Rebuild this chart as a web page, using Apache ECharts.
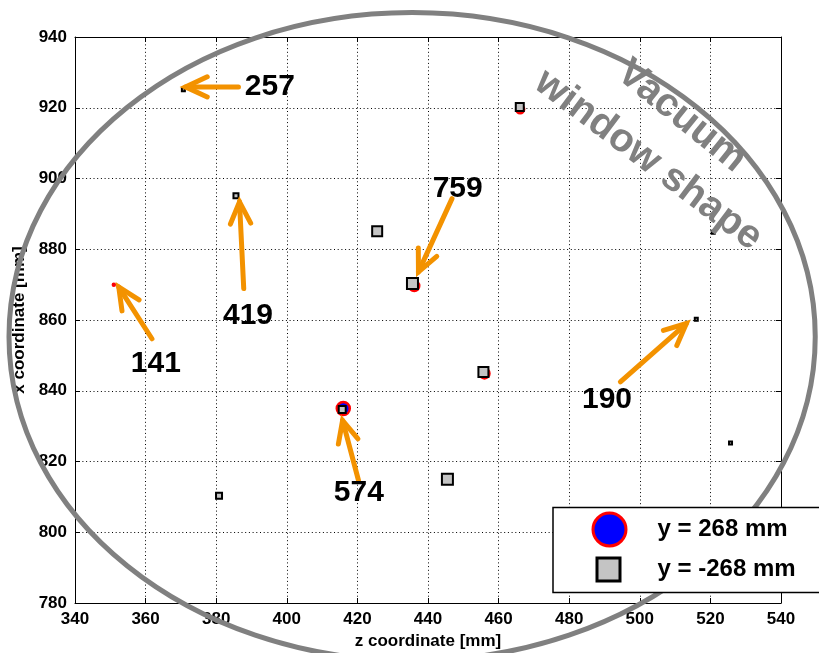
<!DOCTYPE html>
<html><head><meta charset="utf-8">
<script src="https://cdn.jsdelivr.net/npm/echarts@6/dist/echarts.min.js"></script>
<style>html,body{margin:0;padding:0;background:#fff}#c{width:819px;height:653px}</style>
</head><body><div id="c"></div>
<script>
// ---- data ----
const seriesNames = ['y = 268 mm', 'y = -268 mm'];
// [z coordinate, x coordinate]
const posY = [[351, 870], [436.1, 869.6], [466.1, 919.6], [456.0, 844.9], [416, 835]];
const posWeight = [2, 10, 8, 10, 13];
const negY = [[370.7, 925.1], [385.6, 895.1], [425.6, 885.1], [435.6, 870.3], [466, 920.2], [455.7, 845.3],
              [415.7, 834.7], [445.5, 815], [380.8, 810.3], [520.8, 884.8], [516, 860.2], [525.7, 825.2]];
const negWeight = [3, 5, 10, 11, 8, 10, 7, 11, 6, 3, 3, 3];
const annLabels = ['257', '419', '141', '759', '574', '190'];
const annTail  = [[386.3, 925.9], [387.8, 868.9], [361.8, 854.7], [446.8, 894.3], [420.3, 814.7], [494.5, 842.5]];
const annTip   = [[371.3, 925.9], [386.6, 893.4], [352.4, 869.3], [437.3, 873.6], [415.8, 831.6], [513.2, 859.0]];
const annText  = [[395.2, 925.9], [389.0, 861.3], [362.9, 847.5], [448.4, 897.0], [420.4, 811.3], [490.7, 837.6]];
const windowCenter = [435.5, 855.3];
const windowHalfAxes = [114.2, 91.6];
const windowText = ['Vacuum', 'window shape'];
const windowTextPos = [[511.8, 917.6], [502.4, 905.2]];

const FF = '"Liberation Sans", Arial, Helvetica, sans-serif';
const chart = echarts.init(document.getElementById('c'));
const axisCommon = {
  type: 'value',
  axisLine: { show: true, onZero: false, lineStyle: { color: '#000', width: 1 } },
  axisTick: { show: true, inside: true, length: 5, lineStyle: { color: '#000', width: 1 } }
};
const labelStyle = { color: '#000', fontSize: 17, fontWeight: 'bold', fontFamily: FF };
chart.setOption({
  animation: false,
  backgroundColor: '#fff',
  grid: { left: 75, right: 38, top: 37, bottom: 50, containLabel: false, outerBoundsMode: 'none' },
  xAxis: [
    Object.assign({}, axisCommon, {
      min: 340, max: 540, interval: 20, position: 'bottom',
      axisLabel: Object.assign({ margin: 8 }, labelStyle),
      splitLine: { show: true, lineStyle: { color: '#000', width: 1, type: [1, 2.7] } },
      name: 'z coordinate [mm]', nameLocation: 'middle', nameGap: 30,
      nameTextStyle: { color: '#000', fontSize: 17, fontWeight: 'bold', fontFamily: FF }
    }),
    Object.assign({}, axisCommon, {
      min: 340, max: 540, interval: 20, position: 'top',
      axisLabel: { show: false }, splitLine: { show: false }
    })
  ],
  yAxis: [
    Object.assign({}, axisCommon, {
      min: 780, max: 940, interval: 20, position: 'left',
      axisLabel: Object.assign({ margin: 8 }, labelStyle),
      splitLine: { show: true, lineStyle: { color: '#000', width: 1, type: [1, 2.7] } },
      name: 'x coordinate [mm]', nameLocation: 'middle', nameGap: 40,
      nameTextStyle: { color: '#000', fontSize: 17, fontWeight: 'bold', fontFamily: FF }
    }),
    Object.assign({}, axisCommon, {
      min: 780, max: 940, interval: 20, position: 'right',
      axisLabel: { show: false }, splitLine: { show: false }
    })
  ],
  legend: [
    { data: [seriesNames[0]], left: 591.5, top: 511.5, padding: 0, itemWidth: 33, itemHeight: 33, z: 60,
      textStyle: { color: '#000', fontSize: 24, fontWeight: 'bold', fontFamily: FF, padding: [0, 0, 0, 26.5] },
      itemStyle: { borderWidth: 3 } },
    { data: [seriesNames[1]], left: 595.5, top: 556.5, padding: 0, itemWidth: 23, itemHeight: 23, z: 60,
      textStyle: { color: '#000', fontSize: 24, fontWeight: 'bold', fontFamily: FF, padding: [0, 0, 0, 32.5] },
      itemStyle: { borderWidth: 3 } }
  ],
  series: [
    { name: seriesNames[0], type: 'scatter', symbol: 'circle', xAxisIndex: 0, yAxisIndex: 0,
      data: posY.map((p, i) => ({ value: p, symbolSize: posWeight[i] })),
      itemStyle: { color: '#0000ff', borderColor: '#ff0000', borderWidth: 2.5, opacity: 1 }, z: 2 },
    { name: seriesNames[1], type: 'scatter', symbol: 'rect', xAxisIndex: 0, yAxisIndex: 0,
      data: negY.map((p, i) => ({ value: p, symbolSize: negWeight[i] })),
      itemStyle: { color: '#c4c4c4', borderColor: '#000', borderWidth: 2, opacity: 1 }, z: 3 }
  ]
});

// ---- annotations ----
const px = v => chart.convertToPixel({ gridIndex: 0 }, v);
const graphics = [];
const c0 = px(windowCenter);
const cR = px([windowCenter[0] + windowHalfAxes[0], windowCenter[1] + windowHalfAxes[1]]);
graphics.push({ type: 'ellipse', z: 50, silent: true,
  shape: { cx: c0[0], cy: c0[1], rx: Math.abs(cR[0] - c0[0]), ry: Math.abs(cR[1] - c0[1]) },
  style: { fill: 'none', stroke: '#808080', lineWidth: 5 } });
const rots = [-39, -37];
windowText.forEach((t, i) => {
  const p = px(windowTextPos[i]);
  graphics.push({ type: 'text', z: 52, x: p[0], y: p[1], rotation: rots[i] * Math.PI / 180,
    style: { text: t, x: 0, y: 0, fill: '#808080', font: 'bold 40px ' + FF,
      align: 'center', verticalAlign: 'middle', textAlign: 'center', textVerticalAlign: 'middle' } });
});
const ORANGE = '#f39200';
annLabels.forEach((lab, i) => {
  const a = px(annTail[i]), b = px(annTip[i]), t = px(annText[i]);
  graphics.push({ type: 'line', z: 54, shape: { x1: a[0], y1: a[1], x2: b[0], y2: b[1] },
    style: { stroke: ORANGE, lineWidth: 5, lineCap: 'round' } });
  const ang = Math.atan2(a[1] - b[1], a[0] - b[0]);
  const L = 24, w = 25 * Math.PI / 180;
  graphics.push({ type: 'polyline', z: 54,
    shape: { points: [[b[0] + L * Math.cos(ang + w), b[1] + L * Math.sin(ang + w)], [b[0], b[1]],
                      [b[0] + L * Math.cos(ang - w), b[1] + L * Math.sin(ang - w)]] },
    style: { stroke: ORANGE, lineWidth: 5, lineCap: 'round', lineJoin: 'miter', fill: 'none' } });
  graphics.push({ type: 'text', z: 54, x: t[0], y: t[1],
    style: { text: lab, x: 0, y: 0, fill: '#000', font: 'bold 30px ' + FF,
      align: 'center', verticalAlign: 'middle', textAlign: 'center', textVerticalAlign: 'middle' } });
});
// legend frame
graphics.push({ type: 'rect', z: 55, shape: { x: 553, y: 507.5, width: 300, height: 85 },
  style: { fill: '#fff', stroke: '#000', lineWidth: 1.5 } });
chart.setOption({ graphic: graphics });
</script></body></html>
